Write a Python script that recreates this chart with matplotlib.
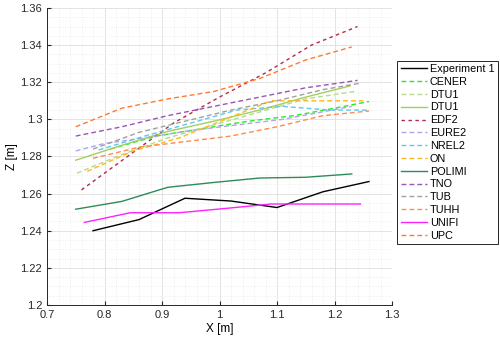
import matplotlib
matplotlib.use("Agg")
import matplotlib.pyplot as plt
from matplotlib.ticker import MultipleLocator

plt.rcParams['font.family'] = ['Liberation Sans', 'DejaVu Sans']

# Experiment and simulation results
exp_x = [0.78, 0.86, 0.94, 1.02, 1.10, 1.18, 1.26]
exp_y = [1.240, 1.246, 1.2575, 1.256, 1.2525, 1.261, 1.2665]

cener_x = [0.81, 0.89, 0.97, 1.05, 1.13, 1.20, 1.26]
cener_y = [1.284, 1.291, 1.295, 1.299, 1.302, 1.306, 1.3096]

dtu1d_x = [0.752, 0.83, 0.91, 0.99, 1.07, 1.15, 1.235]
dtu1d_y = [1.271, 1.281, 1.290, 1.297, 1.304, 1.311, 1.315]

dtu1_x = [0.75, 0.83, 0.91, 0.99, 1.07, 1.15, 1.227]
dtu1_y = [1.278, 1.286, 1.2935, 1.299, 1.305, 1.312, 1.318]

edf2_x = [0.76, 0.84, 0.92, 1.00, 1.08, 1.16, 1.24]
edf2_y = [1.262, 1.280, 1.298, 1.312, 1.325, 1.340, 1.350]

eure2_x = [0.75, 0.80, 0.87, 0.95, 1.03, 1.11, 1.23]
eure2_y = [1.283, 1.287, 1.290, 1.294, 1.297, 1.300, 1.307]

nrel2_x = [0.79, 0.87, 0.95, 1.03, 1.11, 1.19, 1.26]
nrel2_y = [1.2835, 1.291, 1.298, 1.305, 1.307, 1.305, 1.305]

on_x = [0.77, 0.85, 0.93, 1.01, 1.09, 1.17, 1.25]
on_y = [1.272, 1.283, 1.290, 1.300, 1.310, 1.310, 1.310]

polimi_x = [0.75, 0.83, 0.91, 0.99, 1.07, 1.15, 1.23]
polimi_y = [1.2516, 1.2558, 1.2634, 1.266, 1.2684, 1.2688, 1.2706]

tno_x = [0.75, 0.83, 0.91, 0.99, 1.07, 1.15, 1.24]
tno_y = [1.291, 1.296, 1.302, 1.307, 1.312, 1.317, 1.321]

tub_x = [0.78, 0.86, 0.94, 1.02, 1.10, 1.18, 1.245]
tub_y = [1.284, 1.293, 1.299, 1.305, 1.310, 1.316, 1.3195]

tuhh_x = [0.78, 0.86, 0.94, 1.02, 1.10, 1.18, 1.26]
tuhh_y = [1.279, 1.285, 1.288, 1.291, 1.296, 1.302, 1.3045]

unifi_x = [0.765, 0.845, 0.93, 1.01, 1.09, 1.17, 1.245]
unifi_y = [1.2445, 1.2497, 1.2497, 1.252, 1.2544, 1.2544, 1.2544]

upc_x = [0.75, 0.83, 0.91, 0.99, 1.07, 1.15, 1.23]
upc_y = [1.296, 1.306, 1.311, 1.315, 1.322, 1.332, 1.339]

xticks = [0.7, 0.8, 0.9, 1.0, 1.1, 1.2, 1.3]
xticklabels = ['0.7', '0.8', '0.9', '1', '1.1', '1.2', '1.3']
yticks = [1.2, 1.22, 1.24, 1.26, 1.28, 1.3, 1.32, 1.34, 1.36]
yticklabels = ['1.2', '1.22', '1.24', '1.26', '1.28', '1.3', '1.32', '1.34', '1.36']

fig = plt.figure(figsize=(5, 3.46), dpi=100)
ax = fig.add_axes([0.094, 0.1185, 0.69, 0.8585])

lw = 1.0
dsh = (3.5, 2.2)
ax.plot(exp_x, exp_y, color='black', lw=lw, label='Experiment 1')
ax.plot(cener_x, cener_y, '--', color='#22EE22', lw=lw, label='CENER', dashes=dsh)
ax.plot(dtu1d_x, dtu1d_y, '--', color='#B8D98C', lw=lw, label='DTU1', dashes=dsh)
ax.plot(dtu1_x, dtu1_y, '-', color='#A3CF5F', lw=lw, label='DTU1')
ax.plot(edf2_x, edf2_y, '--', color='#B22A4A', lw=lw, label='EDF2', dashes=(2.5, 2.5))
ax.plot(eure2_x, eure2_y, '--', color='#B0A4F2', lw=lw, label='EURE2', dashes=dsh)
ax.plot(nrel2_x, nrel2_y, '--', color='#5EC8F2', lw=lw, label='NREL2', dashes=dsh)
ax.plot(on_x, on_y, '--', color='#FFB81C', lw=lw, label='ON', dashes=dsh)
ax.plot(polimi_x, polimi_y, '-', color='#2E8B57', lw=lw, label='POLIMI')
ax.plot(tno_x, tno_y, '--', color='#9B55B5', lw=lw, label='TNO', dashes=dsh)
ax.plot(tub_x, tub_y, '--', color='#A0A0A0', lw=lw, label='TUB', dashes=dsh)
ax.plot(tuhh_x, tuhh_y, '--', color='#FF8A50', lw=lw, label='TUHH', dashes=dsh)
ax.plot(unifi_x, unifi_y, '-', color='#FF22FF', lw=lw, label='UNIFI')
ax.plot(upc_x, upc_y, '--', color='#FF7A30', lw=lw, label='UPC', dashes=dsh)

ax.set_xlim(0.7, 1.3)
ax.set_ylim(1.2, 1.36)
ax.set_xticks(xticks)
ax.set_xticklabels(xticklabels)
ax.set_yticks(yticks)
ax.set_yticklabels(yticklabels)
ax.xaxis.set_minor_locator(MultipleLocator(0.02))
ax.yaxis.set_minor_locator(MultipleLocator(0.005))

ax.grid(which='major', color='#E3E3E3', lw=0.7)
ax.grid(which='minor', color='#EBEBEB', lw=0.6, ls=':')
ax.set_axisbelow(True)
ax.tick_params(which='both', direction='in', labelsize=8, colors='#262626', length=3)
ax.tick_params(which='minor', length=0)
ax.tick_params(top=False, right=False)
for side in ['top', 'right']:
    ax.spines[side].set_visible(False)
for side in ['left', 'bottom']:
    ax.spines[side].set_color('#262626')
    ax.spines[side].set_linewidth(0.7)

ax.set_xlabel('X [m]', fontsize=8.5, labelpad=2)
ax.set_ylabel('Z [m]', fontsize=8.5, labelpad=2)

leg = fig.legend(loc='upper left', bbox_to_anchor=(0.784, 0.84), fontsize=7.8,
                 handlelength=2.4, handletextpad=0.3, labelspacing=0.26,
                 borderpad=0.3, fancybox=False, edgecolor='#262626', framealpha=1)
leg.get_frame().set_linewidth(0.7)

fig.savefig('out.png', dpi=100)
